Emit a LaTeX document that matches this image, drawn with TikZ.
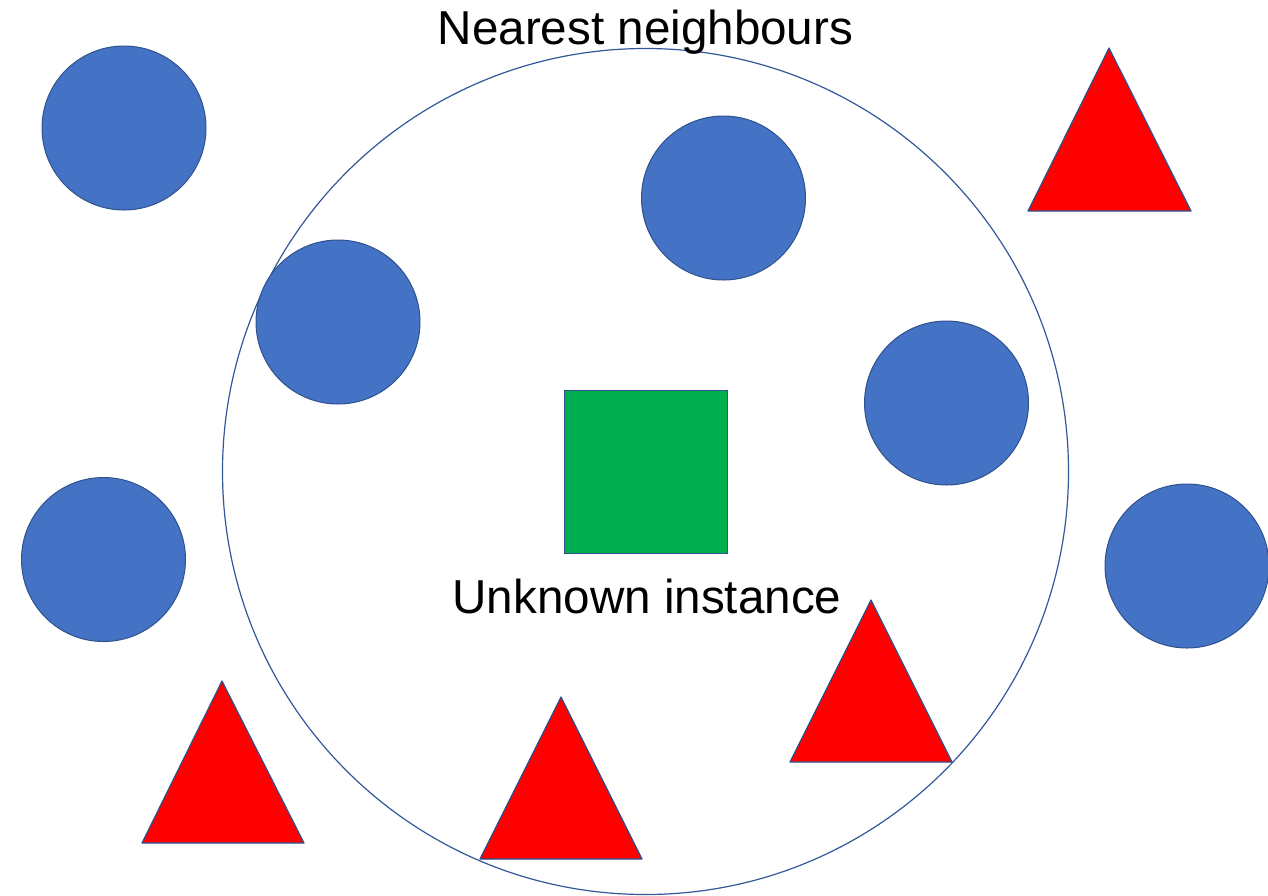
\documentclass[tikz,border=0pt]{standalone}
\usepackage{fontspec}
\setmainfont{Liberation Sans}
\definecolor{dotblue}{HTML}{4472C4}
\definecolor{edgeblue}{HTML}{2F528F}
\definecolor{boxgreen}{HTML}{00B050}
\definecolor{trired}{HTML}{FF0000}
\begin{document}
\begin{tikzpicture}[x=0.5pt,y=-0.5pt,
  dot/.style={circle,fill=dotblue,draw=edgeblue,line width=0.5pt,minimum size=82pt,inner sep=0pt},
  tri/.style={fill=trired,draw=edgeblue,line width=0.6pt,line join=round},
  lbl/.style={font=\fontsize{23.8pt}{28pt}\selectfont,anchor=base,inner sep=0pt}]
\useasboundingbox (0,0) rectangle (1268,895);
% neighbourhood circle
\draw[draw=edgeblue!80!dotblue,line width=0.6pt] (645.5,471.5) circle[radius=211.5pt];
\node[lbl] (title) at (645.5,44) {Nearest neighbours};
% blue circles
\node[dot] (c1) at (124,128) {};
\node[dot] (c2) at (723.5,198) {};
\node[dot] (c3) at (338,322) {};
\node[dot] (c4) at (946.5,403) {};
\node[dot] (c5) at (103.5,559.5) {};
\node[dot] (c6) at (1187,566) {};
% unknown instance
\node[fill=boxgreen,draw=edgeblue,line width=0.5pt,minimum size=81.5pt,inner sep=0pt] (sq) at (645.5,471.5) {};
\node[lbl] (unk) at (647,613) {Unknown instance};
% red triangles
\draw[tri] (1109,48) -- (1191,211) -- (1028,211) -- cycle;
\draw[tri] (871,600) -- (952,762) -- (790,762) -- cycle;
\draw[tri] (222,681) -- (304,843) -- (142,843) -- cycle;
\draw[tri] (561,697) -- (642,859) -- (480,859) -- cycle;
\end{tikzpicture}
\end{document}
